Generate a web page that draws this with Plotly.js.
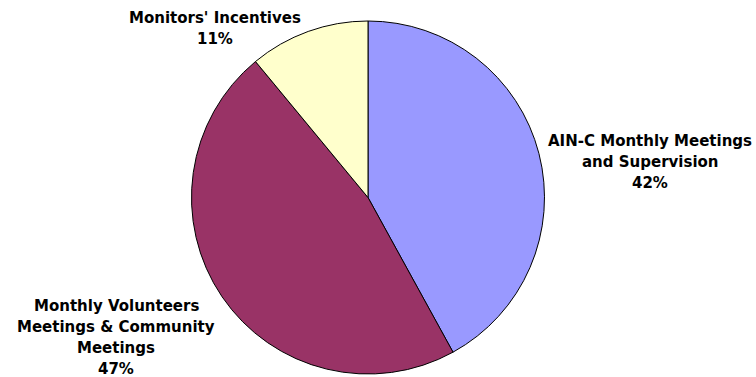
<!DOCTYPE html>
<html>
<head>
<meta charset="utf-8">
<script src="https://cdn.plot.ly/plotly-3.0.1.min.js"></script>
<style>html,body{margin:0;padding:0;background:#fff;}#chart{width:756px;height:377px;}</style>
</head>
<body>
<div id="chart"></div>
<script>
// Data
var categories = ["AIN-C Monthly Meetings and Supervision", "Monthly Volunteers Meetings & Community Meetings", "Monitors' Incentives"];
var values = [42, 47, 11];
var percentLabels = ["42%", "47%", "11%"];
var labelLines = [
  ["AIN-C Monthly Meetings", "and Supervision"],
  ["Monthly Volunteers", "Meetings & Community", "Meetings"],
  ["Monitors' Incentives"]
];

// Styles / positions
var sliceColors = ["#9999FF", "#993366", "#FFFFCC"];
var labelPos = [
  {x: 650, y: 140.5},
  {x: 116, y: 305.5},
  {x: 215, y: 17.5}
];
var lineStep = 21.3;
var W = 756, H = 377;

var annotations = [];
for (var i = 0; i < categories.length; i++) {
  var lines = labelLines[i].concat([percentLabels[i]]);
  for (var j = 0; j < lines.length; j++) {
    annotations.push({
      text: lines[j],
      xref: "paper", yref: "paper",
      x: labelPos[i].x / W,
      y: 1 - (labelPos[i].y + j * lineStep) / H,
      xanchor: "center", yanchor: "middle",
      showarrow: false,
      borderpad: 0,
      font: {family: "DejaVu Sans, Verdana, sans-serif", size: 15, weight: "bold", color: "#000"}
    });
  }
}

var trace = {
  type: "pie",
  labels: categories,
  values: values,
  sort: false,
  direction: "clockwise",
  rotation: 0,
  textinfo: "none",
  hoverinfo: "label+percent",
  marker: {colors: sliceColors, line: {color: "#000", width: 1}},
  domain: {x: [191 / W, 545 / W], y: [1 - 374 / H, 1 - 21 / H]},
  showlegend: false
};

var layout = {
  width: W, height: H,
  margin: {l: 0, r: 0, t: 0, b: 0},
  paper_bgcolor: "#fff",
  showlegend: false,
  annotations: annotations
};

Plotly.newPlot("chart", [trace], layout, {staticPlot: true, displayModeBar: false});
</script>
</body>
</html>
